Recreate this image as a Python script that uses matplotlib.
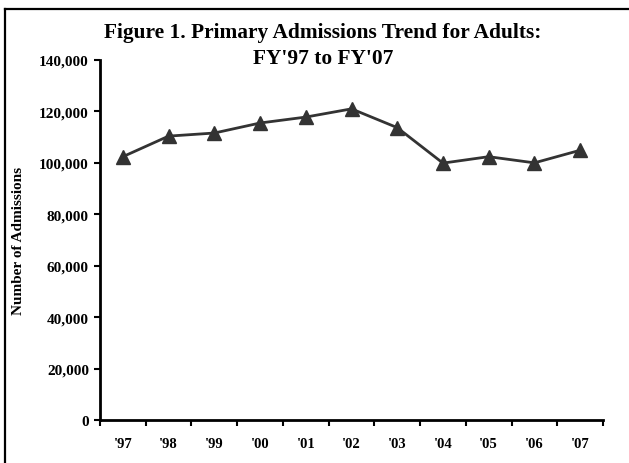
import matplotlib
matplotlib.use('Agg')
import matplotlib.pyplot as plt
from matplotlib.ticker import FuncFormatter
from matplotlib.lines import Line2D

years = ["'97", "'98", "'99", "'00", "'01", "'02", "'03", "'04", "'05", "'06", "'07"]
admissions = [102400, 110400, 111600, 115500, 117800, 121000, 113700, 99900, 102400, 100000, 104900]
y_ticks = [0, 20000, 40000, 60000, 80000, 100000, 120000, 140000]

plt.rcParams['font.family'] = ['Liberation Serif', 'DejaVu Serif']
plt.rcParams['font.weight'] = 'bold'

fig = plt.figure(figsize=(6.29, 4.64), dpi=100)
ax = fig.add_axes([100 / 629, 1 - 421 / 464, 503 / 629, 360 / 464])

x = list(range(len(years)))
ax.plot(x, admissions, color='#333333', linewidth=2, marker='^', markersize=10.5,
        markerfacecolor='#333333', markeredgecolor='#333333')

ax.set_xlim(-0.5, len(years) - 0.5)
ax.set_ylim(0, 140000)
ax.set_yticks(y_ticks)
ax.yaxis.set_major_formatter(FuncFormatter(lambda v, p: f'{int(v):,}'))

# category labels in the middle, tick marks on the boundaries
ax.set_xticks([i - 0.5 for i in range(len(years) + 1)])
ax.set_xticklabels([])
ax.set_xticks(x, minor=True)
ax.set_xticklabels(years, minor=True)
ax.tick_params(axis='x', which='minor', length=0, pad=12, labelsize=10.5)
ax.tick_params(axis='x', which='major', direction='out', length=4, width=1.5)
ax.tick_params(axis='y', direction='out', length=4, width=1.5, labelsize=11, pad=4)

for s in ['top', 'right']:
    ax.spines[s].set_visible(False)
for s in ['left', 'bottom']:
    ax.spines[s].set_linewidth(2)

ax.set_ylabel('Number of Admissions', fontsize=11, fontweight='bold', labelpad=10)

fig.text(323 / 629, 1 - 38 / 464, "Figure 1. Primary Admissions Trend for Adults:",
         ha='center', va='baseline', fontsize=15.4, fontweight='bold')
fig.text(323 / 629, 1 - 64 / 464, "FY'97 to FY'07",
         ha='center', va='baseline', fontsize=15.4, fontweight='bold')

# chart border (left and top edges visible)
fig.add_artist(Line2D([5 / 629, 5 / 629], [0, 1 - 10 / 464], transform=fig.transFigure,
                      color='black', linewidth=1.6))
fig.add_artist(Line2D([5 / 629, 1], [1 - 10 / 464, 1 - 10 / 464], transform=fig.transFigure,
                      color='black', linewidth=1.6))

fig.savefig('out.png', dpi=100)
